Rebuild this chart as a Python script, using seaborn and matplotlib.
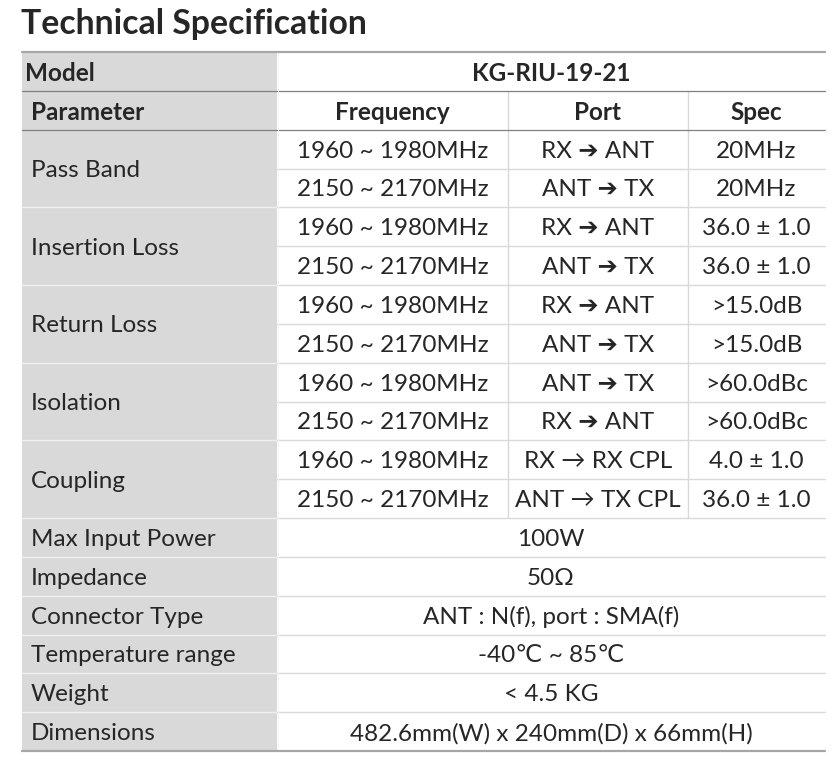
import matplotlib
matplotlib.use("Agg")
import matplotlib.pyplot as plt
import seaborn as sns

# table content
title = "Technical Specification"
model_label = "Model"
model_name = "KG-RIU-19-21"
header = ["Parameter", "Frequency", "Port", "Spec"]

groups = ["Pass Band", "Insertion Loss", "Return Loss", "Isolation", "Coupling"]
freqs = ["1960 ~ 1980MHz", "2150 ~ 2170MHz"] * 5
ports = ["RX ➔ ANT", "ANT ➔ TX", "RX ➔ ANT", "ANT ➔ TX", "RX ➔ ANT",
         "ANT ➔ TX", "ANT ➔ TX", "RX ➔ ANT", "RX → RX CPL", "ANT → TX CPL"]
specs = ["20MHz", "20MHz", "36.0 ± 1.0", "36.0 ± 1.0", ">15.0dB",
         ">15.0dB", ">60.0dBc", ">60.0dBc", "4.0 ± 1.0", "36.0 ± 1.0"]

single_params = ["Max Input Power", "Impedance", "Connector Type",
                 "Temperature range", "Weight", "Dimensions"]
single_values = ["100W", "50Ω", "ANT : N(f), port : SMA(f)", "-40℃ ~ 85℃",
                 "< 4.5 KG", "482.6mm(W) x 240mm(D) x 66mm(H)"]

sns.set_theme(style="white")
plt.rcParams['font.family'] = ['Lato', 'DejaVu Sans']

W, H = 835, 769
fig = plt.figure(figsize=(W / 100, H / 100), dpi=100)
ax = fig.add_axes([0, 0, 1, 1])
ax.set_xlim(0, W)
ax.set_ylim(H, 0)
ax.axis("off")

cols = [22, 277, 508, 688, 825]
top = 52
rh = (751 - top) / 18.0
fs = 17.5
dy = 2  # text sits a little below the row middle
gray = "#d9d9d9"

# first column shading
ax.add_patch(plt.Rectangle((cols[0], top), cols[1] - cols[0], rh * 18,
                           color=gray, lw=0, zorder=0))


def ry(i):
    return top + i * rh


def ty(i):
    return ry(i) + dy


def cx(c):
    return (cols[c] + cols[c + 1]) / 2


ax.text(21, 24, title, fontsize=24.3, fontweight="bold", va="center", ha="left")

# model row
ax.text(25, ty(0.5), model_label, fontsize=fs, fontweight="bold", va="center")
ax.text((cols[1] + cols[4]) / 2, ty(0.5), model_name, fontsize=fs,
        fontweight="bold", va="center", ha="center")

# header row
ax.text(31, ty(1.5), header[0], fontsize=fs, fontweight="bold", va="center")
for c in range(1, 4):
    ax.text(cx(c), ty(1.5), header[c], fontsize=fs, fontweight="bold",
            va="center", ha="center")

# grouped rows
for g, name in enumerate(groups):
    ax.text(31, ty(2 + 2 * g + 1), name, fontsize=fs, va="center")
for i in range(len(freqs)):
    y = ty(2 + i + 0.5)
    ax.text(cx(1), y, freqs[i], fontsize=fs, va="center", ha="center")
    ax.text(cx(2), y, ports[i], fontsize=fs, va="center", ha="center")
    ax.text(cx(3), y, specs[i], fontsize=fs, va="center", ha="center")

# single value rows
for k, (p, v) in enumerate(zip(single_params, single_values)):
    y = ty(12 + k + 0.5)
    ax.text(31, y, p, fontsize=fs, va="center")
    ax.text((cols[1] + cols[4]) / 2, y, v, fontsize=fs, va="center", ha="center")

# grid lines
for i in range(3, 18):
    y = ry(i)
    if i >= 12 or (i - 2) % 2 == 0:
        ax.plot([cols[0], cols[1]], [y, y], color="#f0f0f0", lw=1, zorder=1)
    ax.plot([cols[1], cols[4]], [y, y], color="#d9d9d9", lw=1, zorder=1)
for y in (ry(1), ry(2)):
    ax.plot([cols[0], cols[4]], [y, y], color="#808080", lw=0.9, zorder=2)
for x in (cols[2], cols[3]):
    ax.plot([x, x], [ry(1), ry(12)], color="#d9d9d9", lw=1, zorder=1)
ax.plot([cols[1] + 0.5, cols[1] + 0.5], [ry(0), ry(18)], color="#f4f4f4", lw=0.8)
for y in (ry(0), ry(18)):
    ax.plot([cols[0], cols[4]], [y, y], color="#a6a6a6", lw=1.6, zorder=3)

fig.savefig("out.png", dpi=100)
